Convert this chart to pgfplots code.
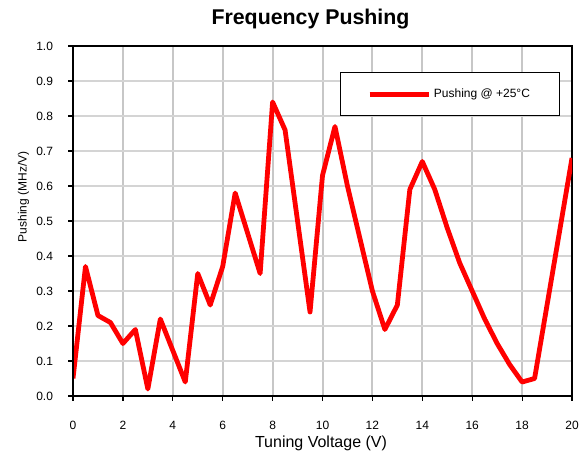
\documentclass[border=0pt]{standalone}
\usepackage{fontspec}
\setmainfont{Liberation Sans}
\usepackage{pgfplots}
\pgfplotsset{compat=1.18}
\begin{document}
\begin{tikzpicture}
\begin{axis}[
  name=ax,
  scale only axis,
  width=374.25pt, height=262.5pt,
  xmin=0, xmax=20, ymin=0, ymax=1,
  xtick={0,2,4,6,8,10,12,14,16,18,20},
  ytick={0,0.1,0.2,0.3,0.4,0.5,0.6,0.7,0.8,0.9,1.0},
  /pgf/number format/assume math mode=true,
  ticklabel style={font=\fontsize{9}{10}\selectfont},
  xticklabel style={yshift=-12pt},
  yticklabel style={xshift=-8pt, /pgf/number format/.cd, fixed, fixed zerofill, precision=1},
  tick align=outside,
  tick pos=left,
  major tick length=3.5pt,
  tick style={black, line width=0.9pt},
  axis line style={black, line width=1.5pt},
  grid=major,
  every axis x grid/.style={color=black!22, line width=1.5pt},
  every axis y grid/.style={color=black!17, line width=1.1pt},
  every axis title shift=0pt,
  title={Frequency Pushing},
  title style={at={(axis description cs:0.476,1.077)}, anchor=center, yshift=0pt, inner sep=1pt, font=\bfseries\fontsize{16}{18}\selectfont},
  xlabel={Tuning Voltage (V)},
  xlabel style={at={(axis description cs:0.497,-0.134)}, anchor=center, yshift=0pt, inner sep=1pt, font=\fontsize{12}{14}\selectfont},
  ylabel={Pushing (MHz/V)},
  ylabel style={at={(axis description cs:-0.099,0.569)}, anchor=center, font=\fontsize{9}{11}\selectfont},
  legend style={at={(rel axis cs:0.535,0.926)}, anchor=north west, draw=black, line width=0.75pt,
    inner xsep=20pt, inner ysep=10.3pt, font=\fontsize{9}{10}\selectfont},
  legend image code/.code={\path (-5.5pt,0pt) -- (39pt,0pt); \draw[#1, line width=1.9pt] (0pt,0pt) -- (39pt,0pt);},
]
\addplot[color=red, line width=3.6pt, line join=round] coordinates {
(0,0.05) (0.5,0.37) (1,0.23) (1.5,0.21) (2,0.15) (2.5,0.19) (3,0.02) (3.5,0.22)
(4,0.13) (4.5,0.04) (5,0.35) (5.5,0.26) (6,0.37) (6.5,0.58) (7,0.465) (7.5,0.35)
(8,0.84) (8.5,0.76) (9,0.50) (9.5,0.24) (10,0.63) (10.5,0.77) (11,0.60) (11.5,0.45)
(12,0.30) (12.5,0.19) (13,0.26) (13.5,0.59) (14,0.67) (14.5,0.59) (15,0.48) (15.5,0.38)
(16,0.30) (16.5,0.22) (17,0.15) (17.5,0.09) (18,0.04) (18.5,0.05) (19,0.26) (19.5,0.47)
(20,0.68)
};
\addlegendentry{Pushing @ +25°C}
\draw[black, line width=2.2pt] (rel axis cs:0,0) -- (rel axis cs:0,1);
\draw[black, line width=2.2pt] (rel axis cs:0,0) -- (rel axis cs:1,0);
\end{axis}
\path ([shift={(-54.75pt,-46.5pt)}]ax.south west) rectangle ([shift={(9pt,34.5pt)}]ax.north east);
\end{tikzpicture}
\end{document}
